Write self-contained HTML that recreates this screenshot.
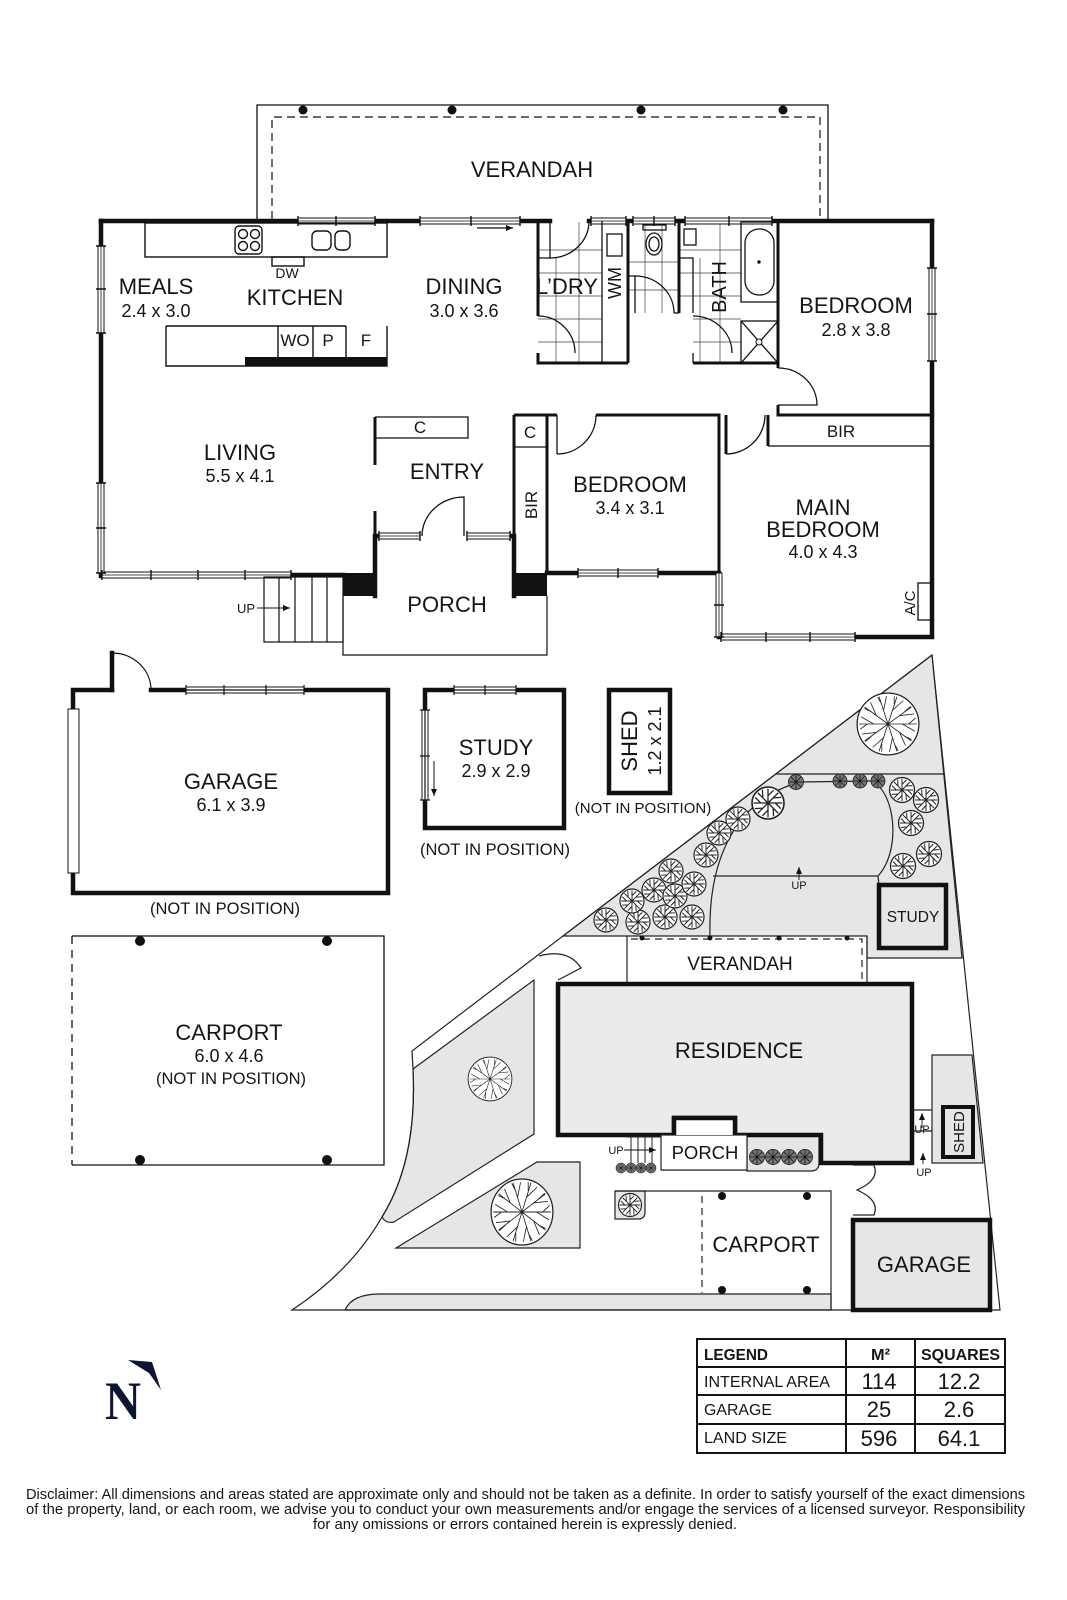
<!DOCTYPE html>
<html><head><meta charset="utf-8"><style>
html,body{margin:0;padding:0;background:#fff;}
svg{display:block;}
text{font-family:"Liberation Sans",Arial,sans-serif;fill:#151515;}
</style></head><body>
<svg width="1067" height="1600" viewBox="0 0 1067 1600" xmlns="http://www.w3.org/2000/svg">
<defs>
<g id="sh"><circle r="10" fill="#fff" stroke="#222" stroke-width="1"/><path d="M0,0L9,0M0,0L6.4,6.4M0,0L0,9M0,0L-6.4,6.4M0,0L-9,0M0,0L-6.4,-6.4M0,0L0,-9M0,0L6.4,-6.4M4.5,0L8,3.5M0,4.5L-3.5,8M-4.5,0L-8,-3.5M0,-4.5L3.5,-8M3.2,3.2L3.5,8.3M-3.2,3.2L-8.3,3.5M-3.2,-3.2L-3.5,-8.3M3.2,-3.2L8.3,-3.5" stroke="#222" stroke-width="0.8" fill="none"/></g>
<g id="shd"><circle r="10" fill="#777" stroke="#222" stroke-width="1.2"/><path d="M0,0L9,0M0,0L6.4,6.4M0,0L0,9M0,0L-6.4,6.4M0,0L-9,0M0,0L-6.4,-6.4M0,0L0,-9M0,0L6.4,-6.4" stroke="#111" stroke-width="1" fill="none"/></g>
<g id="tr"><circle r="30" fill="#fff" stroke="#222" stroke-width="1.2"/><path d="M0,0L28,0M0,0L22.7,16.5M0,0L8.7,26.6M0,0L-8.7,26.6M0,0L-22.7,16.5M0,0L-28,0M0,0L-22.7,-16.5M0,0L-8.7,-26.6M0,0L8.7,-26.6M0,0L22.7,-16.5M14,0L26.1,7M11.3,8.2L17,21M4.3,13.3L1.4,27M-4.3,13.3L-14.7,22.7M-11.3,8.2L-25.2,9.7M-14,0L-26.1,-7M-11.3,-8.2L-17,-21M-4.3,-13.3L-1.4,-27M4.3,-13.3L14.7,-22.7M11.3,-8.2L25.2,-9.7M20,0L27,-6M16,11.8L23,15M6,19L10,26M-6,19L-6,27M-16,11.8L-22,17M-20,0L-27,5M-16,-11.8L-23,-15M-6,-19L-10,-26M6,-19L6,-27M16,-11.8L22,-17" stroke="#222" stroke-width="0.8" fill="none"/></g>
<marker id="ah" markerWidth="8" markerHeight="8" refX="7" refY="4" orient="auto" markerUnits="userSpaceOnUse"><path d="M0,1L7,4L0,7Z" fill="#111"/></marker>
</defs>

<!-- ================= FLOOR PLAN ================= -->
<g fill="none" stroke="#111">
<path d="M257,219V105H828V219" stroke-width="1.3"/>
<path d="M272,219V117H820V219" stroke-width="1.2" stroke-dasharray="8,5"/>
</g>
<g fill="#111"><circle cx="303" cy="110" r="4.5"/><circle cx="452" cy="110" r="4.5"/><circle cx="641" cy="110" r="4.5"/><circle cx="783" cy="110" r="4.5"/></g>

<g stroke="#444" stroke-width="0.7" fill="none">
<path d="M556,258V363M579,222V363M538,250H602M538,273H602M538,296H602M538,319H602M538,342H602"/>
<path d="M645,222V313M662,222V313M628,262H679M628,290H679"/>
<path d="M700,258V363M720,222V363M679,250H741M679,273H741M679,296H741M693,319H741M693,342H741"/>
</g>

<g stroke="#111" stroke-width="4.5" fill="none" stroke-linecap="square">
<path d="M101,221H298M375,221H420M520,221H550M589,221H591M626,221H633M675,221H685M772,221H932"/>
<path d="M101,221V246M101,333V483M101,573V576H102"/>
<path d="M291,575H343"/>
<path d="M932,221V268M932,361V637H855"/>
<path d="M719,637H721"/>
<path d="M547,573H578M658,573H719V573"/>
<path d="M375,536V596M375,536H379M510,536H514V596"/>
</g>
<g fill="#fff" stroke="#111" stroke-width="1">
<rect x="298" y="218" width="77" height="6"/><rect x="420" y="218" width="100" height="6"/>
<rect x="591" y="218" width="35" height="6"/><rect x="633" y="218" width="42" height="6"/><rect x="685" y="218" width="87" height="6"/>
<rect x="102" y="572" width="189" height="6"/>
<rect x="379" y="533" width="41" height="6"/><rect x="467" y="533" width="43" height="6"/>
<rect x="578" y="570" width="80" height="6"/>
<rect x="721" y="634" width="134" height="6"/>
<rect x="98" y="246" width="6" height="87"/><rect x="98" y="483" width="6" height="90"/>
<rect x="929" y="268" width="6" height="93"/>
<rect x="716" y="573" width="6" height="64"/>
</g>
<g stroke="#111" stroke-width="0.8" fill="none">
<path d="M298,221H375M420,221H520M591,221H626M633,221H675M685,221H772M102,575H291M379,536H420M467,536H510M578,573H658M721,637H855M101,246V333M101,483V573M932,268V361M719,573V637"/>
</g>
<g stroke="#111" stroke-width="1.4">
<path d="M298,216V226M336,216V226M375,216V226M420,216V226M471,216V226M520,216V226M591,216V226M626,216V226M633,216V226M654,216V226M675,216V226M685,216V226M729,216V226M772,216V226"/>
<path d="M102,570V580M151,570V580M198,570V580M245,570V580M291,570V580M379,531V541M420,531V541M467,531V541M510,531V541M578,568V578M618,568V578M658,568V578M721,632V642M766,632V642M810,632V642M855,632V642"/>
<path d="M96,246H106M96,289H106M96,333H106M96,483H106M96,528H106M96,573H106M927,268H937M927,314H937M927,361H937M714,605H724M714,637H724"/>
</g>

<g stroke="#111" stroke-width="3" fill="none">
<path d="M538,221V316M538,353V363H628M628,221V363M679,221V313M693,363H778M778,221V368M778,405V415H932M768,415V446M726,415V454M514,415H557M596,415H719V573M547,415V573M514,415V536M375,417V465M375,511V536"/>
</g>
<g stroke="#111" stroke-width="1.3" fill="none">
<path d="M550,221V258H538"/>
<path d="M550,258A39,37 0 0 0 589,222"/>
<path d="M538,316A37,37 0 0 1 575,353"/>
<path d="M602,221V363"/>
<path d="M628,276H635V313"/>
<path d="M635,276A39,37 0 0 1 674,313"/>
<path d="M674,313H679"/>
<path d="M679,258H693V313"/>
<path d="M693,316A39,37 0 0 1 732,353"/>
<path d="M693,353V363"/>
<path d="M778,368A39,37 0 0 1 817,405H778"/>
<path d="M768,446H932"/>
<path d="M726,454A39,39 0 0 0 765,415"/>
<path d="M557,415V454"/>
<path d="M557,454A39,39 0 0 0 596,415"/>
<path d="M514,447H547"/>
<path d="M375,417H468V438H375"/>
<path d="M422,536A42,39 0 0 1 464,497V536"/>
<rect x="741" y="222" width="37" height="80"/>
<rect x="745" y="229" width="29" height="66" rx="14"/>
<rect x="741" y="321" width="37" height="42"/>
<path d="M741,321L778,363M778,321L741,363"/>
<rect x="684" y="229" width="12" height="16"/>
<rect x="607" y="234" width="15" height="22"/>
<rect x="643" y="225" width="23" height="5"/>
<ellipse cx="654" cy="244" rx="8" ry="11"/>
<ellipse cx="654" cy="244" rx="5" ry="7"/>
<rect x="918" y="583" width="14" height="37"/>
</g>
<circle cx="759" cy="262" r="1.7" fill="#111"/>
<circle cx="759" cy="342" r="3" fill="#fff" stroke="#111" stroke-width="1"/>

<g stroke="#111" stroke-width="1.4" fill="none">
<rect x="145" y="223" width="242" height="34"/>
<rect x="235" y="226" width="27" height="28" rx="4"/>
<circle cx="243" cy="234" r="4.5"/><circle cx="255" cy="234" r="4.5"/><circle cx="243" cy="246" r="4.5"/><circle cx="255" cy="246" r="4.5"/>
<rect x="312" y="231" width="19" height="19" rx="5"/><rect x="335" y="231" width="15" height="19" rx="5"/>
<rect x="272" y="257" width="32" height="9"/>
<path d="M166,326H346M387,326V366H166V326M278,326V357M313,326V357M346,326V357"/>
</g>
<rect x="245" y="357" width="142" height="9" fill="#111"/>
<line x1="477" y1="228" x2="513" y2="228" stroke="#111" stroke-width="1.2" marker-end="url(#ah)"/>

<g stroke="#111" stroke-width="1.2" fill="none">
<rect x="264" y="577" width="79" height="65"/>
<path d="M279,577V642M295,577V642M312,577V642M327,577V642"/>
<path d="M343,596V655H547V596"/>
</g>
<line x1="257" y1="608" x2="290" y2="608" stroke="#111" stroke-width="1" marker-end="url(#ah)"/>
<rect x="343" y="573" width="33" height="23" fill="#111"/>
<rect x="513" y="573" width="34" height="23" fill="#111"/>

<g text-anchor="middle" font-size="22">
<text x="532" y="177">VERANDAH</text>
<text x="156" y="294">MEALS</text>
<text x="295" y="305">KITCHEN</text>
<text x="464" y="294">DINING</text>
<text x="567" y="294">L’DRY</text>
<text x="856" y="313">BEDROOM</text>
<text x="240" y="460">LIVING</text>
<text x="447" y="479">ENTRY</text>
<text x="630" y="492">BEDROOM</text>
<text x="823" y="515">MAIN</text>
<text x="823" y="537">BEDROOM</text>
<text x="447" y="612">PORCH</text>
</g>
<g text-anchor="middle" font-size="18">
<text x="156" y="317">2.4 x 3.0</text>
<text x="464" y="317">3.0 x 3.6</text>
<text x="856" y="336">2.8 x 3.8</text>
<text x="240" y="482">5.5 x 4.1</text>
<text x="630" y="514">3.4 x 3.1</text>
<text x="823" y="558">4.0 x 4.3</text>
</g>
<g text-anchor="middle" font-size="17">
<text x="295" y="346">WO</text><text x="328" y="346">P</text><text x="366" y="346">F</text>
<text x="420" y="433">C</text><text x="530" y="438">C</text><text x="841" y="437">BIR</text>
</g>
<text x="287" y="278" font-size="14" text-anchor="middle">DW</text>
<text x="246" y="613" font-size="13" text-anchor="middle">UP</text>
<text transform="translate(537,505) rotate(-90)" font-size="17" text-anchor="middle">BIR</text>
<text transform="translate(621,283) rotate(-90)" font-size="18" text-anchor="middle">WM</text>
<text transform="translate(726,287) rotate(-90)" font-size="20" text-anchor="middle">BATH</text>
<text transform="translate(915,603) rotate(-90)" font-size="15" text-anchor="middle">A/C</text>

<!-- ================= OUTBUILDINGS ================= -->
<g stroke="#111" stroke-width="4.5" fill="none" stroke-linecap="square">
<path d="M112,690H73V893H388V690H304M186,690H151"/>
<path d="M112,690V653"/>
<path d="M454,690H425V828H564V690H516"/>
<rect x="609" y="690" width="61" height="103"/>
</g>
<g fill="#fff" stroke="#111" stroke-width="1">
<rect x="68" y="709" width="11" height="164"/>
<rect x="186" y="687" width="118" height="6"/>
<rect x="454" y="687" width="62" height="6"/>
<rect x="422" y="710" width="6" height="90"/>
</g>
<g stroke="#111" stroke-width="1.2" fill="none">
<path d="M112,653A39,37 0 0 1 151,690"/>
<path d="M186,690H304M454,690H516M425,710V800"/>
<path d="M186,685V695M224,685V695M266,685V695M304,685V695M454,685V695M485,685V695M516,685V695M420,710H430M420,756H430M420,800H430"/>
</g>
<line x1="434" y1="761" x2="434" y2="796" stroke="#111" stroke-width="1" marker-end="url(#ah)"/>
<g text-anchor="middle">
<text x="231" y="789" font-size="22">GARAGE</text>
<text x="231" y="811" font-size="18">6.1 x 3.9</text>
<text x="225" y="914" font-size="16.5">(NOT IN POSITION)</text>
<text x="496" y="755" font-size="22">STUDY</text>
<text x="496" y="777" font-size="18">2.9 x 2.9</text>
<text x="495" y="855" font-size="16.5">(NOT IN POSITION)</text>
<text x="643" y="813" font-size="15">(NOT IN POSITION)</text>
</g>
<text transform="translate(637,741) rotate(-90)" font-size="22" text-anchor="middle">SHED</text>
<text transform="translate(661,741) rotate(-90)" font-size="18" text-anchor="middle">1.2 x 2.1</text>

<g stroke="#111" stroke-width="1.3" fill="none">
<path d="M72,936H384V1165H72"/>
<path d="M72,936V1165" stroke-dasharray="8,6"/>
</g>
<g fill="#111"><circle cx="140" cy="941" r="5"/><circle cx="327" cy="941" r="5"/><circle cx="140" cy="1160" r="5"/><circle cx="327" cy="1160" r="5"/></g>
<g text-anchor="middle">
<text x="229" y="1040" font-size="22">CARPORT</text>
<text x="229" y="1062" font-size="18">6.0 x 4.6</text>
<text x="231" y="1084" font-size="16.5">(NOT IN POSITION)</text>
</g>

<!-- ================= SITE PLAN ================= -->
<g fill="#e6e6e6" stroke="#222" stroke-width="1.2">
<path d="M932,655L962,958H867V936H563Z"/>
<path d="M932,1055H972L983,1163H932Z"/>
<path d="M345,1310Q352,1294 380,1294H831V1310Z"/>
<path d="M413,1069L534,980V1134L394,1222Q386,1224 382,1217C405,1180 416,1130 413,1069Z"/>
<path d="M396,1248L537,1162H580V1248Z"/>
<path d="M615,1191H645V1212Q645,1219 638,1219H615Z"/>
<path d="M747,1135H819V1163Q819,1171 811,1171H747Z"/>
</g>
<g stroke="#222" stroke-width="1.2" fill="none">
<path d="M932,655L412,1051L413,1069C416,1130 405,1180 382,1217C360,1255 330,1285 292,1310H1000L932,655"/>
<path d="M539,956Q568,948 581,968L558,980"/>
<path d="M776,774H944"/>
<path d="M710,936C708,860 735,800 800,782L871,781C895,790 902,850 878,876L879,885M713,876H878"/>
<path d="M627,936V984M867,936V984"/>
<path d="M615,1191H831V1310"/>
<path d="M661,1170H747"/>
<path d="M853,1165H874Q880,1180 857,1190Q880,1200 874,1215H853"/>
<path d="M912,1110H932M912,1131H932M912,1110V1131"/>
</g>
<path d="M631,939H862V984" stroke="#222" stroke-width="1.2" fill="none" stroke-dasharray="7,5"/>
<line x1="702" y1="1196" x2="702" y2="1293" stroke="#222" stroke-width="1.2" stroke-dasharray="7,5"/>
<g fill="#111"><circle cx="642" cy="938" r="2.5"/><circle cx="710" cy="938" r="2.5"/><circle cx="779" cy="938" r="2.5"/><circle cx="847" cy="938" r="2.5"/>
<circle cx="722" cy="1196" r="4"/><circle cx="807" cy="1196" r="4"/><circle cx="722" cy="1290" r="4"/><circle cx="807" cy="1290" r="4"/></g>

<path d="M558,984H912V1163H821V1135H735V1118H674V1135H558Z" fill="#ebebeb" stroke="#111" stroke-width="4.5"/>
<rect x="661" y="1135" width="86" height="35" fill="#fff" stroke="#222" stroke-width="1.2"/>
<path d="M674,1135V1120H735V1135" fill="#fff" stroke="none"/>
<path d="M674,1135V1118H735V1135" fill="none" stroke="#111" stroke-width="4.5"/>
<g stroke="#222" stroke-width="1" fill="none">
<path d="M626,1137H661V1165M631,1137V1163M638,1137V1163M645,1137V1163M652,1137V1163"/>
</g>
<line x1="624" y1="1150" x2="656" y2="1150" stroke="#111" stroke-width="0.9" marker-end="url(#ah)"/>
<line x1="922" y1="1128" x2="922" y2="1113" stroke="#111" stroke-width="0.9" marker-end="url(#ah)"/>
<line x1="923" y1="1164" x2="923" y2="1153" stroke="#111" stroke-width="0.9" marker-end="url(#ah)"/>

<rect x="853" y="1220" width="137" height="90" fill="#e6e6e6" stroke="#111" stroke-width="4.5"/>
<rect x="943" y="1107" width="30" height="50" fill="#e6e6e6" stroke="#111" stroke-width="4"/>
<rect x="879" y="885" width="67" height="63" fill="#e6e6e6" stroke="#111" stroke-width="4.5"/>

<use href="#tr" transform="translate(888,724) scale(1.03)"/>
<use href="#tr" transform="translate(490,1079) scale(0.73)"/>
<use href="#tr" transform="translate(522,1212) scale(1.03,1.1)"/>
<use href="#sh" transform="translate(630,1205) scale(1.15)"/>
<g>
<use href="#sh" transform="translate(606,920) scale(1.2)"/>
<use href="#sh" transform="translate(638,922) scale(1.2)"/>
<use href="#sh" transform="translate(665,917) scale(1.2)"/>
<use href="#sh" transform="translate(692,917) scale(1.2)"/>
<use href="#sh" transform="translate(632,901) scale(1.2)"/>
<use href="#sh" transform="translate(654,890) scale(1.2)"/>
<use href="#sh" transform="translate(675,896) scale(1.2)"/>
<use href="#sh" transform="translate(694,884) scale(1.2)"/>
<use href="#sh" transform="translate(671,871) scale(1.2)"/>
<use href="#sh" transform="translate(706,855) scale(1.2)"/>
<use href="#sh" transform="translate(719,833) scale(1.2)"/>
<use href="#sh" transform="translate(738,819) scale(1.2)"/>
<use href="#sh" transform="translate(768,803) scale(1.6)"/>
<use href="#sh" transform="translate(902,790) scale(1.25)"/>
<use href="#sh" transform="translate(926,800) scale(1.25)"/>
<use href="#sh" transform="translate(911,823) scale(1.25)"/>
<use href="#sh" transform="translate(929,854) scale(1.25)"/>
<use href="#sh" transform="translate(903,866) scale(1.25)"/>
<use href="#shd" transform="translate(796,782) scale(0.75)"/>
<use href="#shd" transform="translate(840,781) scale(0.7)"/>
<use href="#shd" transform="translate(860,781) scale(0.7)"/>
<use href="#shd" transform="translate(878,781) scale(0.7)"/>
<use href="#shd" transform="translate(757,1157) scale(0.75)"/>
<use href="#shd" transform="translate(773,1157) scale(0.75)"/>
<use href="#shd" transform="translate(789,1157) scale(0.75)"/>
<use href="#shd" transform="translate(805,1157) scale(0.75)"/>
<use href="#shd" transform="translate(621,1168) scale(0.5)"/>
<use href="#shd" transform="translate(631,1168) scale(0.5)"/>
<use href="#shd" transform="translate(641,1168) scale(0.5)"/>
<use href="#shd" transform="translate(651,1168) scale(0.5)"/>
</g>

<g text-anchor="middle">
<text x="740" y="970" font-size="19">VERANDAH</text>
<text x="739" y="1058" font-size="22">RESIDENCE</text>
<text x="705" y="1159" font-size="18.5">PORCH</text>
<text x="766" y="1252" font-size="22">CARPORT</text>
<text x="924" y="1272" font-size="22">GARAGE</text>
<text x="913" y="922" font-size="15.5">STUDY</text>
<text x="799" y="889" font-size="11">UP</text>
<text x="616" y="1154" font-size="11">UP</text>
<text x="922" y="1133" font-size="11">UP</text>
<text x="924" y="1176" font-size="11">UP</text>
</g>
<line x1="799" y1="880" x2="799" y2="867" stroke="#111" stroke-width="0.9" marker-end="url(#ah)"/>
<text transform="translate(964,1132) rotate(-90)" font-size="15" text-anchor="middle">SHED</text>

<!-- north -->
<path d="M128,1360L152,1362L161,1390L149,1373Z" fill="#0e1530"/>
<text x="105" y="1419" font-weight="bold" font-size="54" textLength="36" lengthAdjust="spacingAndGlyphs" style="fill:#0e1530;font-family:'Liberation Serif',serif">N</text>

<!-- legend -->
<g stroke="#111" fill="none">
<rect x="697" y="1339" width="308" height="114" stroke-width="2"/>
<path d="M697,1367H1005M697,1395H1005M697,1424H1005M846,1339V1453M915,1339V1453" stroke-width="2"/>
</g>
<g font-size="16" font-weight="bold">
<text x="704" y="1360" textLength="64" lengthAdjust="spacingAndGlyphs">LEGEND</text>
<text x="871" y="1360" textLength="19" lengthAdjust="spacingAndGlyphs">M²</text>
<text x="921" y="1360" textLength="79" lengthAdjust="spacingAndGlyphs">SQUARES</text>
</g>
<g font-size="16">
<text x="704" y="1387" textLength="126" lengthAdjust="spacingAndGlyphs">INTERNAL AREA</text>
<text x="704" y="1415" textLength="68" lengthAdjust="spacingAndGlyphs">GARAGE</text>
<text x="704" y="1443" textLength="83" lengthAdjust="spacingAndGlyphs">LAND SIZE</text>
</g>
<g font-size="22" text-anchor="middle">
<text x="879" y="1389">114</text><text x="959" y="1389">12.2</text>
<text x="879" y="1417">25</text><text x="959" y="1417">2.6</text>
<text x="879" y="1446">596</text><text x="959" y="1446">64.1</text>
</g>

<g font-size="14.5">
<text x="26" y="1499" textLength="999" lengthAdjust="spacingAndGlyphs">Disclaimer: All dimensions and areas stated are approximate only and should not be taken as a definite. In order to satisfy yourself of the exact dimensions</text>
<text x="26" y="1514" textLength="999" lengthAdjust="spacingAndGlyphs">of the property, land, or each room, we advise you to conduct your own measurements and/or engage the services of a licensed surveyor. Responsibility</text>
<text x="313" y="1529" textLength="424" lengthAdjust="spacingAndGlyphs">for any omissions or errors contained herein is expressly denied.</text>
</g>
</svg>
</body></html>
